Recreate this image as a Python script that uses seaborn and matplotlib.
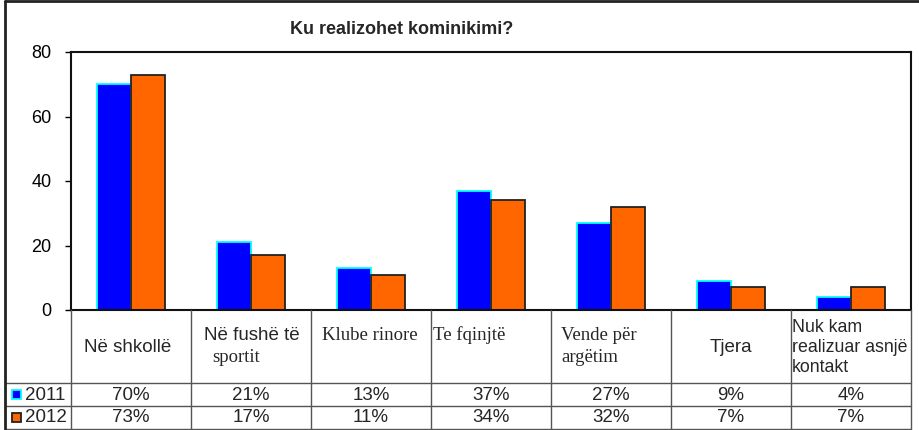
import matplotlib
matplotlib.use('Agg')
import matplotlib.pyplot as plt
import matplotlib.transforms as mtransforms
from matplotlib.lines import Line2D
from matplotlib.patches import Rectangle
import pandas as pd
import seaborn as sns

# data
title = 'Ku realizohet kominikimi?'
categories = ['Në shkollë', 'Në fushë të\nsportit', 'Klube rinore', 'Te fqinjtë',
              'Vende për\nargëtim', 'Tjera', 'Nuk kam\nrealizuar asnjë\nkontakt']
years = ['2011', '2012']
values_2011 = [70, 21, 13, 37, 27, 9, 4]
values_2012 = [73, 17, 11, 34, 32, 7, 7]
y_ticks = [0, 20, 40, 60, 80]

# long-form frame for seaborn
rows = []
for year, vals in zip(years, [values_2011, values_2012]):
    for cat, v in zip(categories, vals):
        rows.append({'category': cat, 'year': year, 'value': v})
df = pd.DataFrame(rows)

sns.set_theme(style='white')
plt.rcParams['font.family'] = ['Liberation Sans', 'DejaVu Sans']

W, H = 919, 430
fig = plt.figure(figsize=(W / 100, H / 100), dpi=100)
fig.patch.set_facecolor('white')

def fy(py):
    return 1 - py / H

def fx(px):
    return px / W

ax = fig.add_axes([fx(71), fy(310), fx(911) - fx(71), (310 - 52) / H])

face_colors = ['#0000FF', '#FF6600']
edge_colors = ['#00FFFF', '#222222']
sns.barplot(data=df, x='category', y='value', hue='year', order=categories,
            hue_order=years, palette=face_colors, saturation=1, width=0.57, gap=0,
            legend=False, ax=ax)
for cont, ec in zip(ax.containers, edge_colors):
    for bar in cont:
        bar.set_edgecolor(ec)
        bar.set_linewidth(1.3)

ax.set_ylim(0, 80)
ax.set_xlim(-0.5, len(categories) - 0.5)
ax.set_yticks(y_ticks)
ax.set_yticklabels([str(t) for t in y_ticks], fontsize=13, color='black')
ax.set_xticks([])
ax.set_xlabel('')
ax.set_ylabel('')
ax.tick_params(axis='y', left=True, length=4, width=1, pad=10, color='black')
for side, sp in ax.spines.items():
    sp.set_visible(True)
    sp.set_color('#111111')
    sp.set_linewidth(1.5)

fig.text(fx(402), fy(29), title, fontsize=13, fontweight='bold',
         ha='center', va='center')

# data table under the plot
tb = mtransforms.blended_transform_factory(ax.transData, fig.transFigure)
grid_kw = dict(color='#555555', linewidth=1, clip_on=False)
n = len(categories)
for i in range(n + 1):
    fig.add_artist(Line2D([i - 0.5, i - 0.5], [fy(310), fy(429)], transform=tb, **grid_kw))
for py in [383, 406, 429]:
    fig.add_artist(Line2D([fx(5), fx(911)], [fy(py), fy(py)], transform=fig.transFigure, **grid_kw))

# outer border (left and top)
fig.add_artist(Line2D([fx(5), fx(5)], [fy(1), fy(429)], transform=fig.transFigure,
                      color='#222222', linewidth=2))
fig.add_artist(Line2D([fx(5), 1], [fy(1), fy(1)], transform=fig.transFigure,
                      color='#222222', linewidth=2))

# category label layout: (family, align, x offset from column left in px, y px, size)
sans, serif = ['Liberation Sans', 'DejaVu Sans'], ['Liberation Serif', 'DejaVu Serif']
label_layout = [
    [(sans, 'center', 57, 347, 13.5)],
    [(sans, 'center', 61, 335, 13.5), (serif, 'left', 21, 357, 13.5)],
    [(serif, 'center', 59, 335, 13.5)],
    [(serif, 'left', 2, 335, 13.5)],
    [(serif, 'left', 10, 335, 13.5), (serif, 'left', 10, 357, 13.5)],
    [(sans, 'center', 60, 347, 13.5)],
    [(sans, 'left', 1, 328, 12.8), (sans, 'left', 1, 348, 12.8), (sans, 'left', 1, 368, 12.8)],
]
for i, (cat, layout) in enumerate(zip(categories, label_layout)):
    for line, (fam, ha, dx, py, fs) in zip(cat.split('\n'), layout):
        tr = mtransforms.offset_copy(tb, fig=fig, x=dx, y=0, units='dots')
        fig.text(i - 0.5, fy(py), line, transform=tr, fontsize=fs,
                 family=fam, ha=ha, va='center')

# value rows with legend keys
row_y = [395, 418]
for year, vals, fc, ec, py in zip(years, [values_2011, values_2012], face_colors, edge_colors, row_y):
    fig.add_artist(Rectangle((fx(12), fy(py + 4)), fx(9), 9 / H, transform=fig.transFigure,
                             facecolor=fc, edgecolor=ec, linewidth=1.3))
    fig.text(fx(25), fy(py), year, fontsize=13.5, ha='left', va='center')
    for i, v in enumerate(vals):
        fig.text(i, fy(py), f'{v}%', transform=tb, fontsize=13.5, ha='center', va='center')

fig.savefig('out.png', dpi=100, facecolor='white')
plt.close(fig)
